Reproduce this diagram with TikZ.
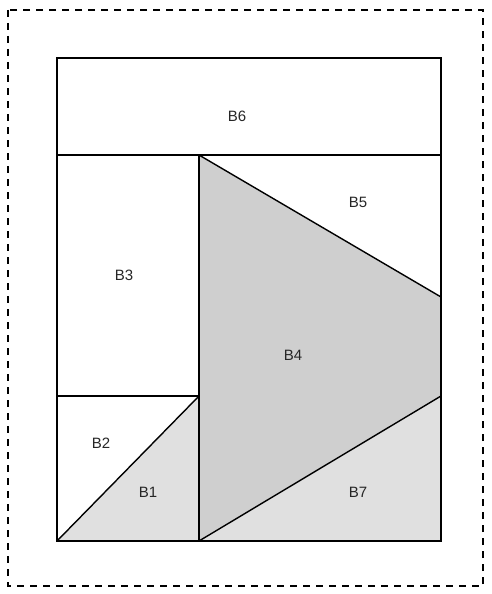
\documentclass[tikz,border=0pt]{standalone}
\usepackage{fontspec}
\setmainfont{Liberation Sans}
\begin{document}
\begin{tikzpicture}[x=1pt,y=-1pt,
  edge/.style={draw=black,line width=1.4pt},
  lbl/.style={font=\fontsize{15}{17}\selectfont,text=black!85},
  dark/.style={fill=black!19},
  light/.style={fill=black!12}]
\useasboundingbox (0,0) rectangle (492,594);
\draw[line width=1.4pt,dash pattern=on 7pt off 6pt] (8,10) rectangle (483,586);
% coordinates
\coordinate (TL) at (57,58);
\coordinate (TR) at (441,58);
\coordinate (ML) at (57,155);
\coordinate (MR) at (441,155);
\coordinate (D) at (199,155);
\coordinate (BL) at (57,541);
\coordinate (BR) at (441,541);
\coordinate (DB) at (199,541);
\coordinate (L2) at (57,396);
\coordinate (D2) at (199,396);
\coordinate (R5) at (441,297);
\coordinate (R7) at (441,396);
% fills
\fill[dark] (D) -- (R5) -- (R7) -- (DB) -- cycle;
\fill[light] (DB) -- (R7) -- (BR) -- cycle;
\fill[light] (BL) -- (D2) -- (DB) -- cycle;
% edges
\draw[edge] (TL) rectangle (BR);
\draw[edge] (ML) -- (MR);
\draw[edge] (D) -- (DB);
\draw[edge] (L2) -- (D2);
\draw[edge] (D) -- (R5);
\draw[edge] (DB) -- (R7);
\draw[edge] (BL) -- (D2);
% labels
\node[lbl] (b6) at (237,116) {B6};
\node[lbl] (b5) at (358,202) {B5};
\node[lbl] (b3) at (124,275) {B3};
\node[lbl] (b4) at (293,355) {B4};
\node[lbl] (b2) at (101,443) {B2};
\node[lbl] (b1) at (148,492) {B1};
\node[lbl] (b7) at (358,492) {B7};
\end{tikzpicture}
\end{document}
